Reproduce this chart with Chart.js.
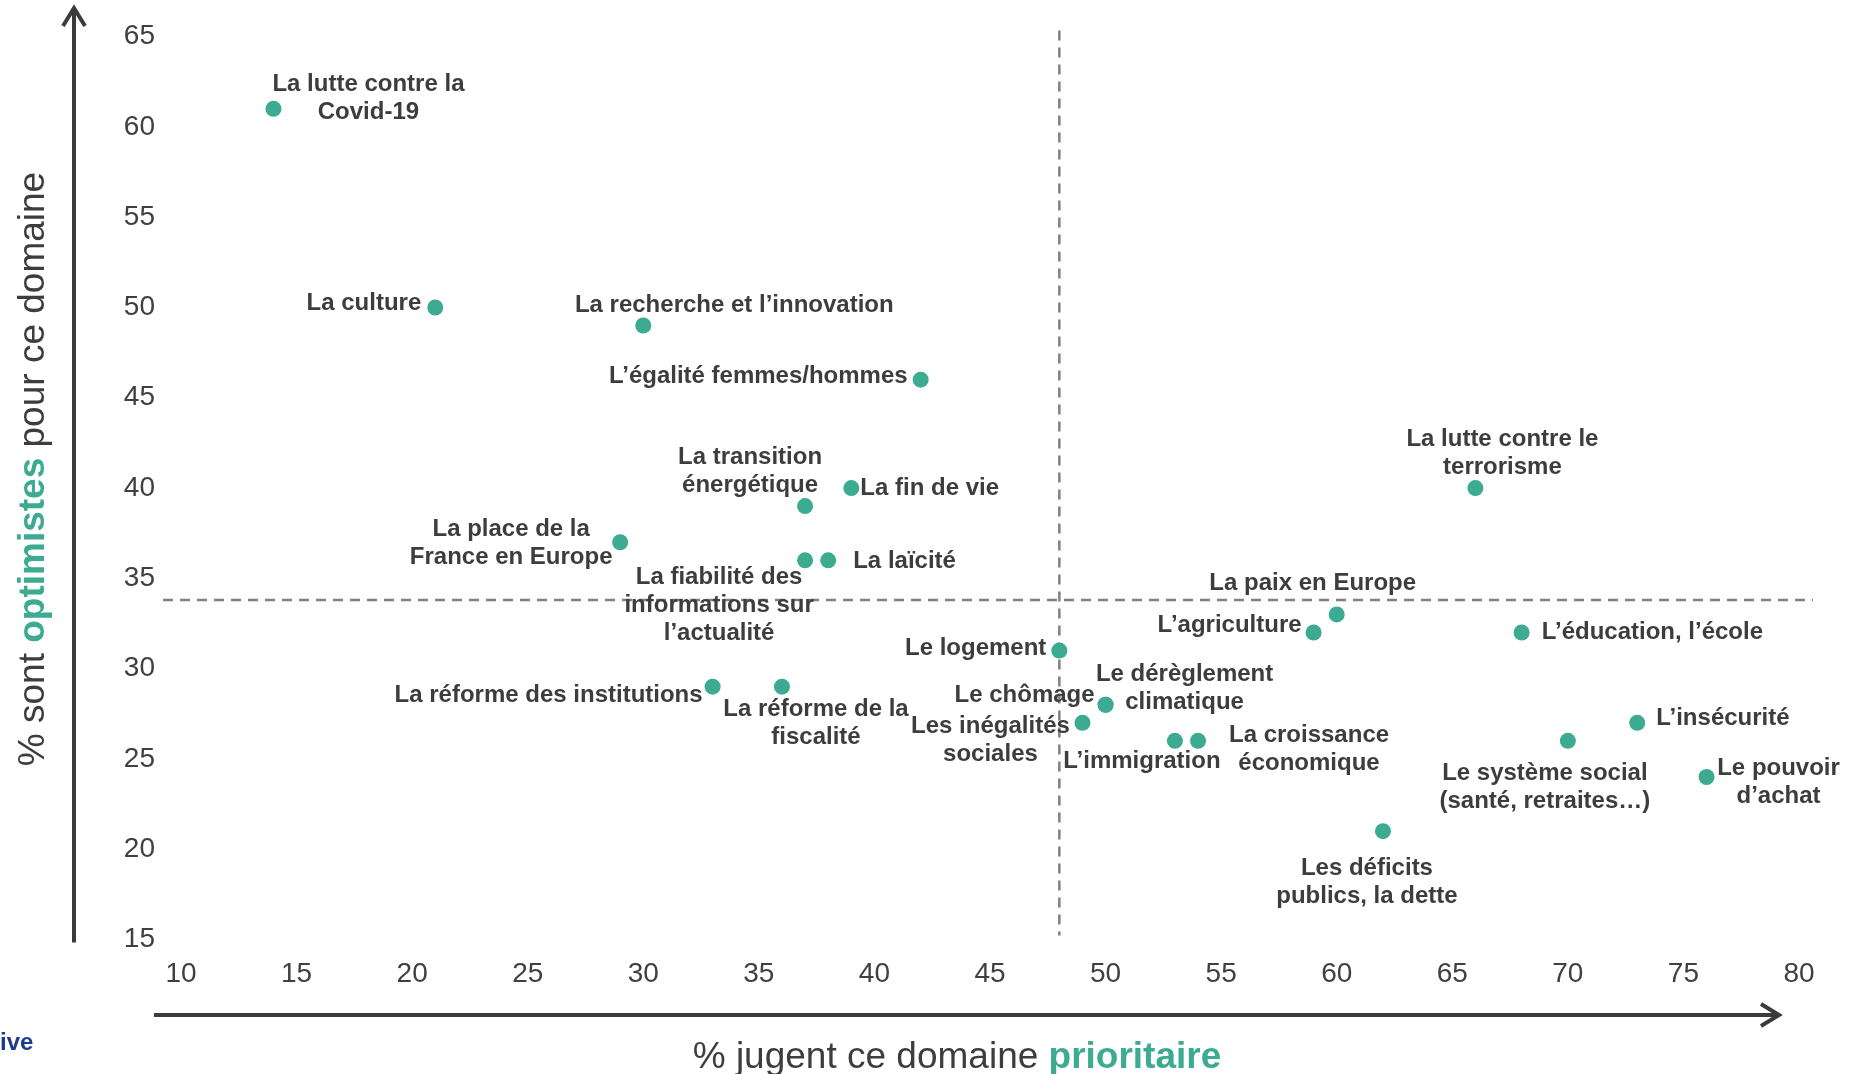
<!DOCTYPE html>
<html lang="fr">
<head>
<meta charset="utf-8">
<title>Domaines prioritaires et optimisme</title>
<script src="https://cdn.jsdelivr.net/npm/chart.js@4.4.1/dist/chart.umd.min.js"></script>
<style>
    html, body { margin: 0; padding: 0; background: #fff; overflow: hidden; }
    #wrap { position: relative; width: 1853px; height: 1074px; }
</style>
</head>
<body>
<div id="wrap"><canvas id="scatterChart"></canvas></div>
<script>
// Données : domaines, % prioritaire (x), % optimistes (y)
const domaines = [
    "La lutte contre la\nCovid-19",
    "La culture",
    "La recherche et l’innovation",
    "L’égalité femmes/hommes",
    "La transition\nénergétique",
    "La fin de vie",
    "La place de la\nFrance en Europe",
    "La fiabilité des\ninformations sur\nl’actualité",
    "La laïcité",
    "Le logement",
    "La réforme des institutions",
    "La réforme de la\nfiscalité",
    "Le chômage",
    "Le dérèglement\nclimatique",
    "Les inégalités\nsociales",
    "L’immigration",
    "La croissance\néconomique",
    "Les déficits\npublics, la dette",
    "Le système social\n(santé, retraites…)",
    "L’insécurité",
    "Le pouvoir\nd’achat",
    "L’éducation, l’école",
    "L’agriculture",
    "La paix en Europe",
    "La lutte contre le\nterrorisme"
];
const prioritaire = [14, 21, 30, 42, 37, 39, 29, 37, 38, 48, 33, 36, 50, 50, 49, 53, 54, 62, 70, 73, 76, 68, 59, 60, 66];
const optimistes  = [61, 50, 49, 46, 39, 40, 37, 36, 36, 31, 29, 29, 28, 28, 27, 26, 26, 21, 26, 27, 24, 32, 32, 33, 40];

// lignes de référence (moyennes)
const moyennePrioritaire = 48;
const moyenneOptimistes = 33.8;

// bornes des axes et pas des graduations
const xBornes = [10, 80];
const yBornes = [15, 65];
const pasGraduation = 5;

// placement des étiquettes : [alignement, décalage x, décalage y] par rapport au point
const placement = [
    ["center", 95, -24], ["right", -14, -4], ["center", 91, -20], ["right", -13, -3],
    ["center", -55, -49], ["left", 9, 0], ["center", -109, -13], ["center", -86, 17],
    ["left", 25, 1], ["right", -13, -2], ["right", -10, 9], ["center", 34, 23],
    ["right", -11, -9], ["center", 79, -30], ["center", -92, 4], ["center", -33, 21],
    ["center", 111, -5], ["center", -16, 37], ["center", -23, 33], ["left", 19, -4],
    ["center", 72, -9], ["left", 20, 0], ["right", -12, -7], ["center", -24, -31],
    ["center", 27, -49]
];

const TEAL = "#3cab91";
const TEXT = "#3d3d3d";
const FONT = "'Liberation Sans', Arial, sans-serif";

Chart.defaults.font.family = FONT;

// flèches, lignes pointillées, titres et étiquettes
const decorPlugin = {
    id: "decor",
    beforeDatasetsDraw(chart) {
        const { ctx, chartArea, scales } = chart;
        const vx = scales.x.getPixelForValue(moyennePrioritaire);
        const hy = scales.y.getPixelForValue(moyenneOptimistes);

        ctx.save();
        ctx.strokeStyle = "#808080";
        ctx.lineWidth = 2.5;
        ctx.setLineDash([10, 7]);
        ctx.beginPath();
        ctx.moveTo(vx, chartArea.top - 6);
        ctx.lineTo(vx, chartArea.bottom - 4);
        ctx.stroke();
        ctx.beginPath();
        ctx.moveTo(chartArea.left - 18, hy);
        ctx.lineTo(chartArea.right + 14, hy);
        ctx.stroke();
        ctx.restore();

        // axes en flèche
        ctx.save();
        ctx.strokeStyle = "#3b3b3b";
        ctx.lineWidth = 4;
        ctx.setLineDash([]);
        const ax = chartArea.left - 107;
        ctx.beginPath();
        ctx.moveTo(ax, chartArea.bottom + 3);
        ctx.lineTo(ax, 8);
        ctx.stroke();
        ctx.beginPath();
        ctx.moveTo(ax - 11, 26);
        ctx.lineTo(ax, 8);
        ctx.lineTo(ax + 11, 26);
        ctx.stroke();

        const ay = 1015;
        const tip = 1779;
        ctx.beginPath();
        ctx.moveTo(154, ay);
        ctx.lineTo(tip, ay);
        ctx.stroke();
        ctx.beginPath();
        ctx.moveTo(tip - 18, ay - 11);
        ctx.lineTo(tip, ay);
        ctx.lineTo(tip - 18, ay + 11);
        ctx.stroke();
        ctx.restore();
    },
    afterDatasetsDraw(chart) {
        const { ctx } = chart;
        const meta = chart.getDatasetMeta(0);

        // étiquettes des points
        ctx.save();
        ctx.fillStyle = TEXT;
        ctx.font = "bold 24px " + FONT;
        ctx.textBaseline = "middle";
        meta.data.forEach((pt, i) => {
            const [align, dx, dy] = placement[i];
            ctx.textAlign = align;
            domaines[i].split("\n").forEach((ligne, k) => {
                ctx.fillText(ligne, pt.x + dx, pt.y + dy + k * 28);
            });
        });
        ctx.restore();

        // titre axe X
        drawMixed(ctx, [["% jugent ce domaine ", false], ["prioritaire", true]], 957, 1068, 0);
        // titre axe Y
        drawMixed(ctx, [["% sont ", false], ["optimistes", true], [" pour ce domaine", false]], 44, 469, -Math.PI / 2);

        // logo coupé en bas à gauche
        ctx.save();
        ctx.fillStyle = "#1d3a8f";
        ctx.font = "bold 24px " + FONT;
        ctx.textAlign = "left";
        ctx.textBaseline = "alphabetic";
        ctx.fillText("ive", 0, 1050);
        ctx.restore();
    }
};

// texte en plusieurs morceaux (normal / gras vert), centré sur (cx, cy)
function drawMixed(ctx, parts, cx, cy, angle) {
    ctx.save();
    ctx.translate(cx, cy);
    ctx.rotate(angle);
    ctx.textBaseline = "alphabetic";
    ctx.textAlign = "left";
    const fonts = parts.map(p => (p[1] ? "bold " : "") + "37px " + FONT);
    let total = 0;
    const widths = parts.map((p, i) => {
        ctx.font = fonts[i];
        const w = ctx.measureText(p[0]).width;
        total += w;
        return w;
    });
    let x = -total / 2;
    parts.forEach((p, i) => {
        ctx.font = fonts[i];
        ctx.fillStyle = p[1] ? TEAL : TEXT;
        ctx.fillText(p[0], x, 0);
        x += widths[i];
    });
    ctx.restore();
}

const ctx = document.getElementById("scatterChart").getContext("2d");
new Chart(ctx, {
    type: "scatter",
    data: {
        datasets: [{
            label: "Domaines",
            data: prioritaire.map((v, i) => ({ x: v, y: optimistes[i] })),
            pointRadius: 8,
            pointHoverRadius: 8,
            pointBackgroundColor: TEAL,
            pointBorderWidth: 0
        }]
    },
    options: {
        responsive: true,
        maintainAspectRatio: false,
        animation: false,
        layout: {
            padding: { left: 0, right: 54, top: 36.6, bottom: 74.5 }
        },
        scales: {
            x: {
                type: "linear",
                min: xBornes[0],
                max: xBornes[1],
                grid: { display: false, drawTicks: false },
                border: { display: false },
                ticks: { stepSize: pasGraduation, padding: 18, color: "#404040", font: { size: 28 } },
                afterFit: (scale) => { scale.height = 60; }
            },
            y: {
                type: "linear",
                min: yBornes[0],
                max: yBornes[1],
                grid: { display: false, drawTicks: false },
                border: { display: false },
                ticks: { stepSize: pasGraduation, padding: 26, color: "#404040", font: { size: 28 } },
                afterFit: (scale) => {
                    scale.width = 181;
                    // la marge haute est fixée par layout.padding
                    scale.paddingTop = 0;
                    scale.paddingBottom = 0;
                }
            }
        },
        plugins: {
            legend: { display: false },
            tooltip: { enabled: false }
        }
    },
    plugins: [decorPlugin]
});
</script>
</body>
</html>
